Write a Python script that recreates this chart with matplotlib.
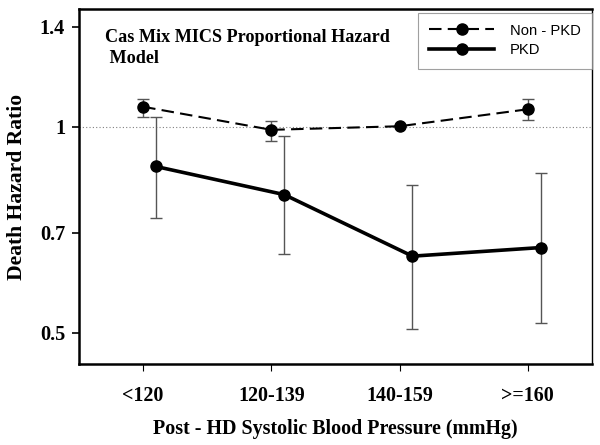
import matplotlib
matplotlib.use("Agg")
import matplotlib.pyplot as plt
import numpy as np

# data
groups = ['<120', '120-139', '140-159', '>=160']
non_pkd = [1.07, 0.99, 1.002, 1.061]
non_pkd_lo = [1.035, 0.955, 1.002, 1.023]
non_pkd_hi = [1.10, 1.021, 1.002, 1.10]
pkd = [0.875, 0.796, 0.647, 0.666]
pkd_lo = [0.735, 0.651, 0.506, 0.516]
pkd_hi = [1.035, 0.968, 0.823, 0.855]
yticks = [0.5, 0.7, 1, 1.4]
ytick_labels = ['0.5', '0.7', '1', '1.4']

serif = 'Liberation Serif'
sans = 'Liberation Sans'

fig = plt.figure(figsize=(6, 4.45), dpi=100)
ax = fig.add_axes([79 / 600, 81 / 445, 513 / 600, 355 / 445])

x = np.arange(len(groups))
ax.set_yscale('log')

# reference line at 1
ax.axhline(1, color='gray', linestyle=(0, (1, 2)), linewidth=0.8, zorder=1)

err_kw = dict(fmt='none', ecolor='#555555', elinewidth=1.0, capsize=4, capthick=1.0, zorder=2)

ax.errorbar(x, non_pkd,
            yerr=[np.array(non_pkd) - np.array(non_pkd_lo), np.array(non_pkd_hi) - np.array(non_pkd)],
            **err_kw)
ax.errorbar(x + 0.1, pkd,
            yerr=[np.array(pkd) - np.array(pkd_lo), np.array(pkd_hi) - np.array(pkd)],
            **err_kw)

ax.plot(x, non_pkd, color='black', linewidth=1.5, linestyle=(0, (6, 3)),
        marker='o', markersize=8, label='Non - PKD', zorder=3)
ax.plot(x + 0.1, pkd, color='black', linewidth=2.6, linestyle='-',
        marker='o', markersize=8, label='PKD', zorder=3)

ax.set_xlim(-0.5, 3.5)
ax.set_ylim(0.45, 1.487)
ax.set_xticks(x)
ax.set_xticklabels(groups, fontfamily=serif, fontweight='bold', fontsize=14.4)
ax.yaxis.set_minor_locator(matplotlib.ticker.NullLocator())
ax.set_yticks(yticks)
ax.set_yticklabels(ytick_labels, fontfamily=serif, fontweight='bold', fontsize=14.6)
ax.tick_params(axis='x', length=5, width=0.8, pad=11)
ax.tick_params(axis='y', length=5, width=1.2, pad=5)

for s in ax.spines.values():
    s.set_linewidth(1.8)
ax.spines['right'].set_linewidth(1.0)

ax.set_xlabel('Post - HD Systolic Blood Pressure (mmHg)', fontfamily=serif,
              fontweight='bold', fontsize=14.4, labelpad=9)
ax.set_ylabel('Death Hazard Ratio', fontfamily=serif, fontweight='bold',
              fontsize=15.6, labelpad=9)

ax.text(0.051, 0.943, 'Cas Mix MICS Proportional Hazard\n Model', transform=ax.transAxes,
        fontfamily=serif, fontweight='bold', fontsize=13.1, va='top', ha='left',
        linespacing=1.3)

leg = ax.legend(loc='upper right', bbox_to_anchor=(1.0, 0.99), prop={'family': sans, 'size': 10.6},
                frameon=True, fancybox=False, edgecolor='#888888', handlelength=4.4,
                handletextpad=1.1, borderpad=0.75, labelspacing=0.4, borderaxespad=0.0)
leg.get_frame().set_linewidth(0.8)

fig.savefig('out.png', dpi=100)
